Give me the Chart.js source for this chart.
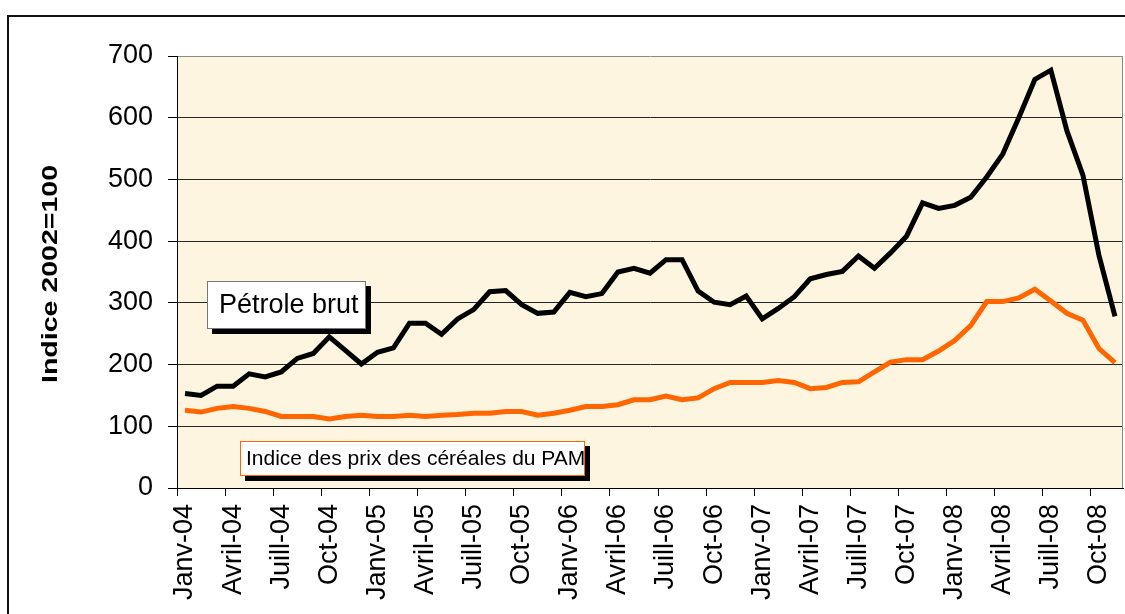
<!DOCTYPE html>
<html lang="fr">
<head>
<meta charset="utf-8">
<title>Pétrole brut et céréales</title>
<script src="https://cdn.jsdelivr.net/npm/chart.js@4/dist/chart.umd.min.js"></script>
<style>
    html, body { margin: 0; padding: 0; background: #fff; }
    #wrap { width: 1125px; height: 614px; overflow: hidden; }
</style>
</head>
<body>
<div id="wrap"><canvas id="myChart" width="1125" height="614"></canvas></div>
<script>
// Months Janv-04 .. Nov-08
const monthLabels = [
    'Janv-04', 'Févr-04', 'Mars-04', 'Avril-04', 'Mai-04', 'Juin-04', 'Juill-04', 'Août-04', 'Sept-04', 'Oct-04', 'Nov-04', 'Déc-04',
    'Janv-05', 'Févr-05', 'Mars-05', 'Avril-05', 'Mai-05', 'Juin-05', 'Juill-05', 'Août-05', 'Sept-05', 'Oct-05', 'Nov-05', 'Déc-05',
    'Janv-06', 'Févr-06', 'Mars-06', 'Avril-06', 'Mai-06', 'Juin-06', 'Juill-06', 'Août-06', 'Sept-06', 'Oct-06', 'Nov-06', 'Déc-06',
    'Janv-07', 'Févr-07', 'Mars-07', 'Avril-07', 'Mai-07', 'Juin-07', 'Juill-07', 'Août-07', 'Sept-07', 'Oct-07', 'Nov-07', 'Déc-07',
    'Janv-08', 'Févr-08', 'Mars-08', 'Avril-08', 'Mai-08', 'Juin-08', 'Juill-08', 'Août-08', 'Sept-08', 'Oct-08', 'Nov-08'
]

// Pétrole brut (indice 2002=100)
const petroleValues = [
    153, 150, 165, 165, 185, 180, 188, 210, 218, 245, 223, 201,
    220, 227, 267, 267, 249, 274, 289, 318, 320, 297, 283, 285,
    317, 310, 315, 350, 356, 348, 370, 370, 319, 301, 297, 311,
    274, 291, 310, 339, 346, 351, 376, 356, 381, 408, 462, 453,
    458, 471, 504, 541, 600, 662, 677, 579, 507, 377, 278
]

// Indice des prix des céréales du PAM
const cerealesValues = [
    126, 123, 129, 132, 129, 124, 116, 116, 116, 112, 116, 118,
    116, 116, 118, 116, 118, 119, 121, 121, 124, 124, 118, 121,
    126, 132, 132, 135, 143, 143, 149, 143, 146, 161, 171, 171,
    171, 174, 171, 161, 163, 171, 172, 188, 204, 208, 208, 222,
    239, 263, 302, 302, 308, 322, 303, 283, 272, 226, 203
]

const yTicks = [0, 100, 200, 300, 400, 500, 600, 700]
const yTitle = 'Indice 2002=100'
const petroleLabel = 'Pétrole brut'
const cerealesLabel = 'Indice des prix des céréales du PAM'

const FONT = '"Liberation Sans", Arial, Helvetica, sans-serif'

// Draw a white label box with a black drop shadow
const drawBox = (ctx, text, x, y, w, h, border, fontSize, padLeft) => {
    ctx.fillStyle = '#000'
    ctx.fillRect(x + 5, y + 5, w, h)
    ctx.fillStyle = '#fff'
    ctx.fillRect(x, y, w, h)
    ctx.strokeStyle = border
    ctx.lineWidth = 1
    ctx.strokeRect(x + 0.5, y + 0.5, w - 1, h - 1)
    ctx.fillStyle = '#000'
    ctx.font = fontSize + 'px ' + FONT
    ctx.textAlign = 'left'
    ctx.textBaseline = 'middle'
    ctx.fillText(text, x + padLeft, y + h / 2 + 1)
}

const decorations = {
    id: 'decorations',
    beforeDraw: (chart) => {
        const { ctx, chartArea: { left, top, right, bottom } } = chart
        ctx.save()
        // outer frame
        ctx.fillStyle = '#111'
        ctx.fillRect(7, 15, 2, 620)
        ctx.fillRect(7, 15, 1130, 2)
        // plot background
        ctx.fillStyle = '#FDF5E0'
        ctx.fillRect(left, top, right - left, bottom - top)
        ctx.restore()
    },
    afterDatasetsDraw: (chart) => {
        const { ctx, chartArea: { top, right, bottom } } = chart
        ctx.save()
        // right border of plot
        ctx.strokeStyle = '#8a8a8a'
        ctx.lineWidth = 1
        ctx.beginPath()
        ctx.moveTo(right - 0.5, top)
        ctx.lineTo(right - 0.5, bottom)
        ctx.stroke()

        drawBox(ctx, petroleLabel, 207, 281, 159, 48, '#777', 27, 12)
        drawBox(ctx, cerealesLabel, 240, 441, 345, 35, '#FF6600', 21, 6)

        // y title, stretched like the original
        ctx.translate(51, 274)
        ctx.rotate(-Math.PI / 2)
        ctx.font = 'bold 22px ' + FONT
        const w = ctx.measureText(yTitle).width
        ctx.scale(218 / w, 1)
        ctx.fillStyle = '#000'
        ctx.textAlign = 'center'
        ctx.textBaseline = 'middle'
        ctx.fillText(yTitle, 0, 0)
        ctx.restore()
    }
}

const ctx = document.getElementById('myChart')

const chart = new Chart(ctx, {
    type: 'line',
    data: {
        labels: monthLabels,
        datasets: [{
            label: petroleLabel,
            data: petroleValues,
            borderColor: '#000',
            borderWidth: 5,
            pointRadius: 0,
            tension: 0,
            fill: false
        }, {
            label: cerealesLabel,
            data: cerealesValues,
            borderColor: '#FF6600',
            borderWidth: 5,
            pointRadius: 0,
            tension: 0,
            fill: false
        }]
    },
    options: {
        responsive: false,
        devicePixelRatio: 1,
        animation: false,
        layout: { padding: { left: 0, right: 2, top: 56, bottom: 0 } },
        plugins: {
            legend: { display: false },
            tooltip: { enabled: false }
        },
        scales: {
            x: {
                offset: true,
                grid: {
                    offset: true,
                    drawOnChartArea: false,
                    tickLength: 8,
                    color: c => c.index % 3 === 0 ? '#000' : 'rgba(0,0,0,0)'
                },
                border: { display: true, color: '#000', width: 1 },
                ticks: {
                    autoSkip: false,
                    maxRotation: 90,
                    minRotation: 90,
                    padding: 8,
                    color: '#000',
                    font: { family: FONT, size: 27 },
                    callback: (v, i) => i % 3 === 0 ? monthLabels[i] : ''
                },
                afterFit: s => {
                    s.height = 126
                    s.paddingLeft = 0
                    s.paddingRight = 0
                }
            },
            y: {
                min: 0,
                max: 700,
                afterBuildTicks: s => { s.ticks = yTicks.map(v => ({ value: v })) },
                grid: {
                    tickLength: 9,
                    tickColor: '#000',
                    color: c => c.tick && c.tick.value === 700 ? '#8a8a8a' : '#262626'
                },
                border: { color: '#000' },
                ticks: {
                    padding: 15,
                    color: '#000',
                    font: { family: FONT, size: 27 }
                },
                afterFit: s => {
                    s.width = 177
                    s.paddingTop = 0
                    s.paddingBottom = 0
                }
            }
        }
    },
    plugins: [decorations]
})
</script>
</body>
</html>
